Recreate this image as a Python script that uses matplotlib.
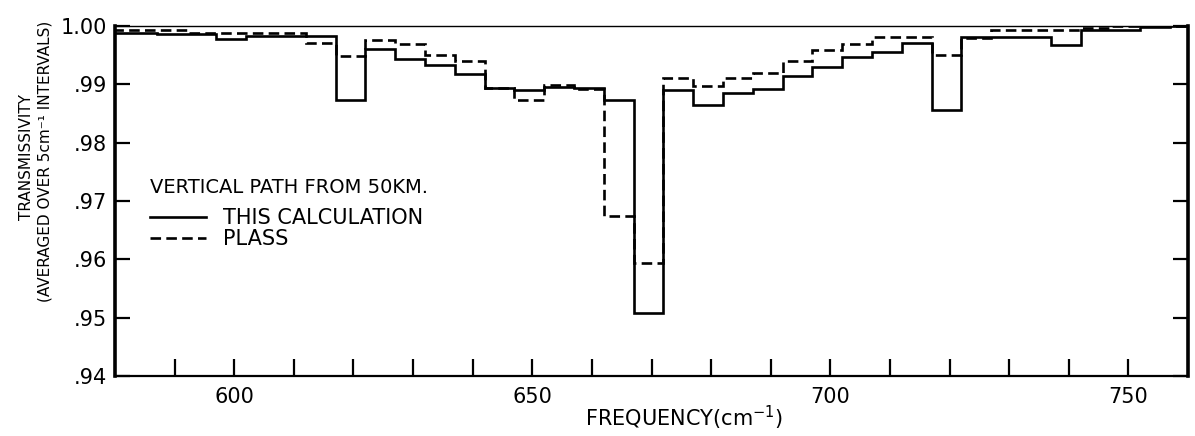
import numpy as np
import matplotlib
matplotlib.use("Agg")
import matplotlib.pyplot as plt
from matplotlib.lines import Line2D

# ---- data -------------------------------------------------------------
# 5 cm-1 averaging intervals (lower edges), last entry is final upper edge
bin_edges = [577, 582, 587, 592, 597, 602, 607, 612, 617, 622, 627, 632, 637,
             642, 647, 652, 657, 662, 667, 672, 677, 682, 687, 692, 697, 702,
             707, 712, 717, 722, 727, 732, 737, 742, 747, 752, 757, 762]

this_calculation = [0.9988, 0.9988, 0.9986, 0.9986, 0.9978, 0.9983, 0.9983,
                    0.9983, 0.9873, 0.9961, 0.9943, 0.9933, 0.9918, 0.9894,
                    0.9890, 0.9895, 0.9894, 0.9873, 0.9508, 0.9890, 0.9865,
                    0.9885, 0.9892, 0.9914, 0.9930, 0.9947, 0.9955, 0.9971,
                    0.9856, 0.9981, 0.9981, 0.9981, 0.9967, 0.9993, 0.9993,
                    0.9998, 1.0000]

plass = [0.9993, 0.9993, 0.9993, 0.9988, 0.9988, 0.9988, 0.9988, 0.9971,
         0.9949, 0.9976, 0.9969, 0.9950, 0.9940, 0.9894, 0.9873, 0.9899,
         0.9892, 0.9674, 0.9594, 0.9911, 0.9897, 0.9911, 0.9919, 0.9940,
         0.9959, 0.9969, 0.9981, 0.9981, 0.9950, 0.9979, 0.9993, 0.9993,
         0.9993, 0.9997, 1.0000, 1.0000, 1.0000]

x_ticks = [590, 600, 610, 620, 630, 640, 650, 660, 670, 680, 690, 700, 710,
           720, 730, 740, 750]
x_tick_labels = ["", "600", "", "", "", "", "650", "", "", "", "", "700", "",
                 "", "", "", "750"]
y_ticks = [0.94, 0.95, 0.96, 0.97, 0.98, 0.99, 1.00]
y_tick_labels = [".94", ".95", ".96", ".97", ".98", ".99", "1.00"]

series_labels = ["THIS CALCULATION", "PLASS"]
legend_title = "VERTICAL PATH FROM 50KM."
xlabel = "FREQUENCY(cm$^{\\mathregular{-1}}$)"
ylabel1 = "TRANSMISSIVITY"
ylabel2 = "(AVERAGED OVER 5cm\u207b\u00b9 INTERVALS)"

# ---- figure -----------------------------------------------------------
W, H = 1195, 436
fig = plt.figure(figsize=(W / 100, H / 100), dpi=100)
ax = fig.add_axes([115 / W, 1 - 376 / H, (1188 - 115) / W, 350 / H])

lw = 1.9
dash = (0, (4.0, 2.0))
ax.stairs(this_calculation, bin_edges, baseline=None, color="black",
          linewidth=lw, linestyle="-")
ax.stairs(plass, bin_edges, baseline=None, color="black",
          linewidth=lw, linestyle=dash)

ax.set_xlim(580, 760)
ax.set_ylim(0.94, 1.0)

ax.set_xticks(x_ticks)
ax.set_xticklabels(x_tick_labels, fontsize=15)
ax.set_yticks(y_ticks)
ax.set_yticklabels(y_tick_labels, fontsize=15)
ax.tick_params(axis="x", direction="in", length=12, width=1.6, pad=8,
               bottom=True, top=False)
ax.tick_params(axis="y", direction="in", length=11, width=1.6, pad=6,
               left=True, right=True)

for side, w in [("left", 2.6), ("right", 2.6), ("bottom", 1.6), ("top", 1.0)]:
    ax.spines[side].set_linewidth(w)
    ax.spines[side].set_color("black")

# legend
ax.text((150 - 115) / 1073, (376 - 187) / 350, legend_title,
        transform=ax.transAxes, fontsize=14, ha="left", va="center")
handles = [Line2D([], [], color="black", lw=lw, linestyle="-"),
           Line2D([], [], color="black", lw=lw, linestyle=dash)]
ax.legend(handles, series_labels, loc="upper left",
          bbox_to_anchor=((150 - 115) / 1073, (376 - 208) / 350),
          frameon=False, prop={"size": 15}, handlelength=2.7,
          handletextpad=0.8, labelspacing=0.05, borderpad=0,
          borderaxespad=0)

# axis labels
fig.text(684 / W, 1 - 418 / H, xlabel, fontsize=15, ha="center", va="center")
fig.text(27 / W, 1 - 157 / H, ylabel1, fontsize=11, rotation=90,
         ha="center", va="center")
fig.text(45 / W, 1 - 161 / H, ylabel2, fontsize=11, rotation=90,
         ha="center", va="center")

fig.savefig("out.png", dpi=100)
